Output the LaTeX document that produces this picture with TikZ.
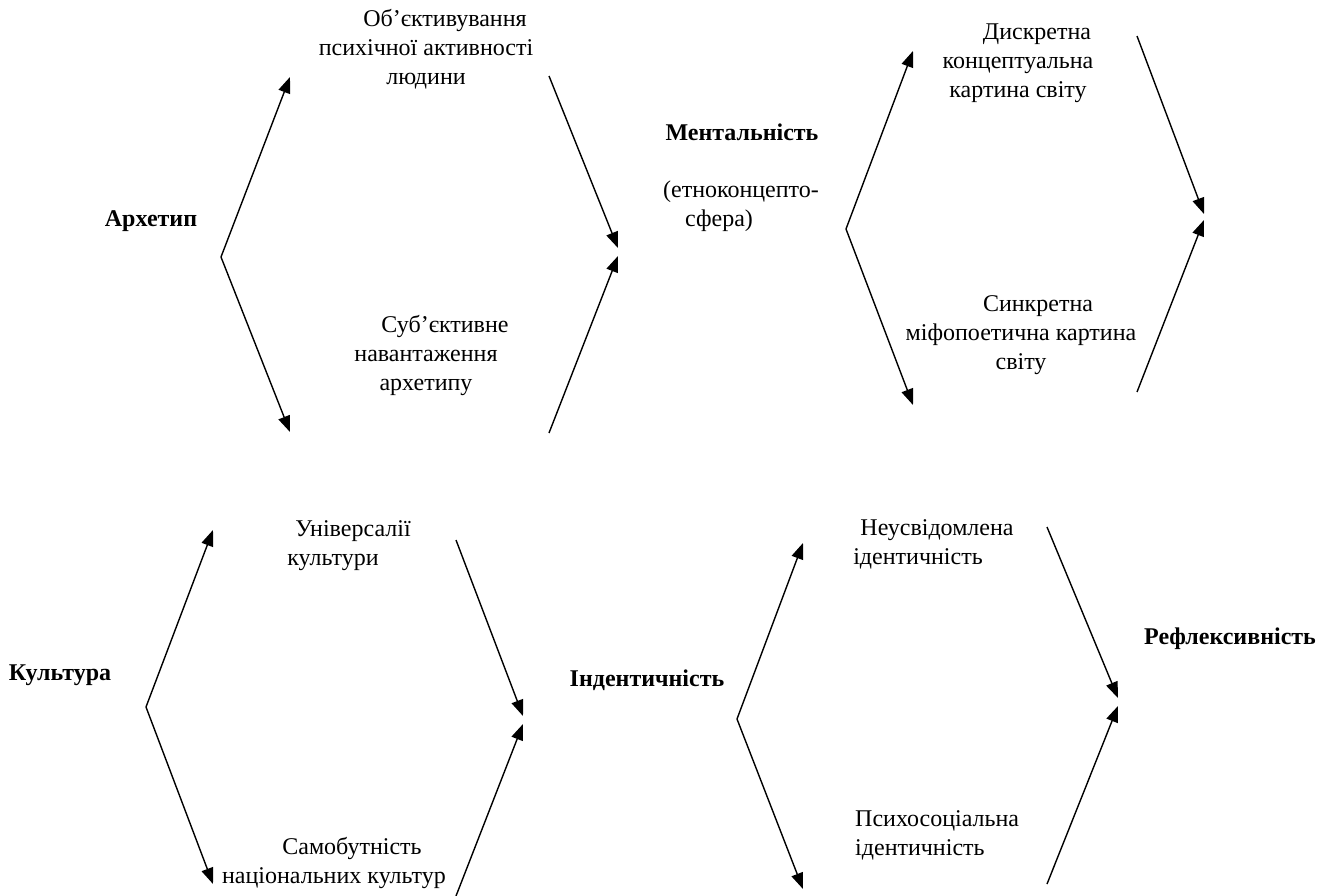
\documentclass[tikz,border=0pt]{standalone}
\usepackage{fontspec}
\setmainfont{Liberation Serif}
\usetikzlibrary{arrows.meta}
\begin{document}
\begin{tikzpicture}[x=1pt,y=-1pt,
  txt/.style={font=\fontsize{24}{29}\selectfont, inner sep=0pt, align=center},
  lbl/.style={font=\fontsize{24}{29}\selectfont\bfseries, inner sep=0pt},
  conn/.style={line width=1.4pt, -{Triangle[length=16pt,width=12pt]}}]
\fill[white] (0,0) rectangle (1322,896);
\useasboundingbox (0,0) rectangle (1322,896);

% ---------- group 1: Архетип ----------
\node[lbl] (arch) at (151,221) {Архетип};
\node[txt] (obj) at (426,49) {\hspace*{38pt}Об’єктивування\\психічної активності\\людини};
\node[txt] (sub) at (426,355) {\hspace*{38pt}Суб’єктивне\\навантаження\\архетипу};
\coordinate (a1v) at (221,257);
\coordinate (a1u) at (290,77);
\coordinate (a1d) at (290,432);
\coordinate (a1ru) at (549,76);
\coordinate (a1rd) at (549,433);
\coordinate (a1tu) at (618,248);
\coordinate (a1td) at (618,256);
\draw[conn] (a1v) -- (a1u);
\draw[conn] (a1v) -- (a1d);
\draw[conn] (a1ru) -- (a1tu);
\draw[conn] (a1rd) -- (a1td);

% ---------- group 2: Ментальність ----------
\node[lbl] (ment) at (742,132) {Ментальність};
\node[txt] (etno) at (741,206) {(етноконцепто-\\сфера)\hspace*{44pt}};
\node[txt] (disk) at (1018,63) {\hspace*{38pt}Дискретна\\концептуальна\\картина світу};
\node[txt] (sink) at (1021,335) {\hspace*{34pt}Синкретна\\міфопоетична картина\\світу};
\coordinate (a2v) at (846,229);
\coordinate (a2u) at (913,51);
\coordinate (a2d) at (913,405);
\coordinate (a2ru) at (1137,36);
\coordinate (a2rd) at (1137,392);
\coordinate (a2tu) at (1204,214);
\coordinate (a2td) at (1204,220);
\draw[conn] (a2v) -- (a2u);
\draw[conn] (a2v) -- (a2d);
\draw[conn] (a2ru) -- (a2tu);
\draw[conn] (a2rd) -- (a2td);

% ---------- group 3: Культура ----------
\node[lbl] (kult) at (60,675) {Культура};
\node[txt] (univ) at (333,546) {\hspace*{40pt}Універсалії\\культури};
\node[txt] (samo) at (334,863) {\hspace*{36pt}Самобутність\\національних культур};
\coordinate (a3v) at (146,707);
\coordinate (a3u) at (213,530);
\coordinate (a3d) at (213,884);
\coordinate (a3ru) at (456,540);
\coordinate (a3rd) at (456,896);
\coordinate (a3tu) at (523,716);
\coordinate (a3td) at (523,724);
\draw[conn] (a3v) -- (a3u);
\draw[conn] (a3v) -- (a3d);
\draw[conn] (a3ru) -- (a3tu);
\draw[conn] (a3rd) -- (a3td);

% ---------- group 4: Індентичність ----------
\node[lbl] (ident) at (647,680) {Індентичність};
\node[lbl] (refl) at (1230,639) {Рефлексивність};
\node[txt] (neus) at (918,544) {\hspace*{38pt}Неусвідомлена\\ідентичність};
\node[txt, align=left, anchor=west] (psych) at (855,835) {Психосоціальна\\ідентичність};
\coordinate (a4v) at (737,719);
\coordinate (a4u) at (803,543);
\coordinate (a4d) at (803,889);
\coordinate (a4ru) at (1047,527);
\coordinate (a4rd) at (1047,884);
\coordinate (a4tu) at (1118,698);
\coordinate (a4td) at (1118,706);
\draw[conn] (a4v) -- (a4u);
\draw[conn] (a4v) -- (a4d);
\draw[conn] (a4ru) -- (a4tu);
\draw[conn] (a4rd) -- (a4td);
\end{tikzpicture}
\end{document}
